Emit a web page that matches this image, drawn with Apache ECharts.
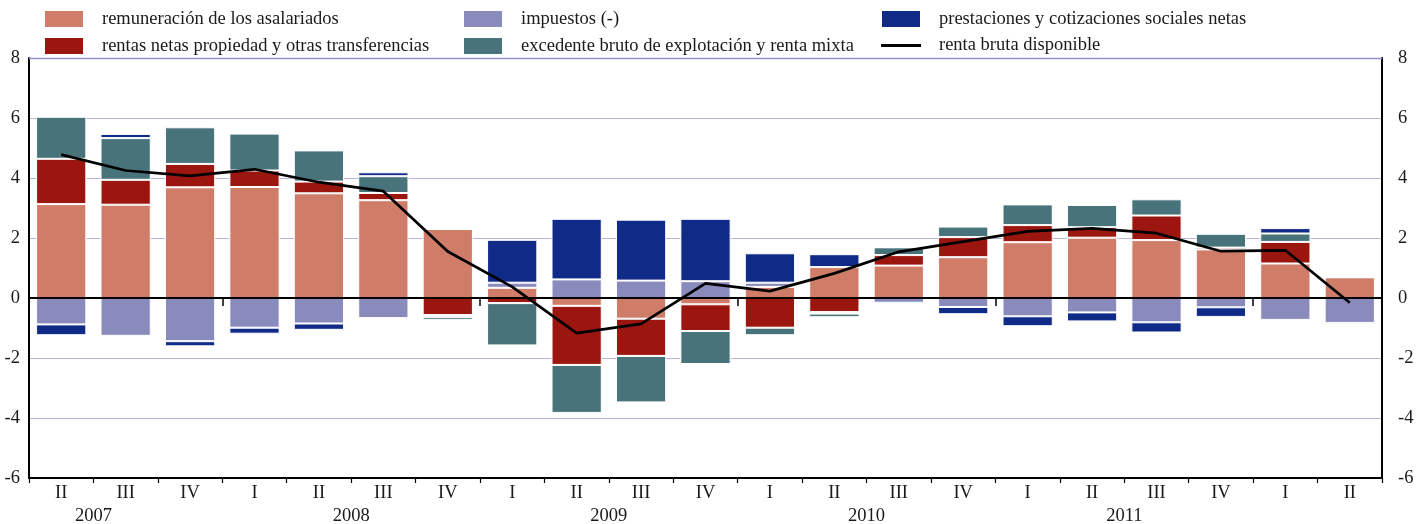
<!DOCTYPE html>
<html>
<head>
<meta charset="utf-8">
<script src="https://cdn.jsdelivr.net/npm/echarts@6/dist/echarts.min.js"></script>
<style>
  html, body { margin: 0; padding: 0; background: #fff; }
  #chart { width: 1423px; height: 524px; }
</style>
</head>
<body>
<div id="chart"></div>
<script>
// Trimestres (2007 II – 2012 II)
const categories = ['II','III','IV','I','II','III','IV','I','II','III','IV','I','II','III','IV','I','II','III','IV','I','II'];
const years = ['2007','2008','2009','2010','2011'];

// Contribuciones (puntos porcentuales)
const remuneracion = [3.13, 3.11, 3.69, 3.70, 3.49, 3.26, 2.30, 0.34, -0.26, -0.69, -0.21, 0.37, 1.03, 1.08, 1.36, 1.86, 2.01, 1.93, 1.62, 1.15, 0.69];
const rentasNetas = [1.51, 0.83, 0.78, 0.55, 0.39, 0.24, -0.57, -0.17, -1.97, -1.24, -0.89, -0.99, -0.47, 0.35, 0.67, 0.57, 0.35, 0.82, 0.06, 0.72, 0];
const impuestos = [-0.88, -1.26, -1.44, -0.99, -0.85, -0.67, -0.07, 0.17, 0.62, 0.58, 0.56, 0.14, -0.05, -0.16, -0.30, -0.61, -0.48, -0.81, -0.31, -0.73, -0.83];
const excedente = [1.40, 1.39, 1.22, 1.23, 1.04, 0.56, -0.10, -1.41, -1.60, -1.55, -1.10, -0.25, -0.12, 0.26, 0.35, 0.69, 0.74, 0.54, 0.46, 0.28, -0.06];
const prestaciones = [-0.36, 0.14, -0.17, -0.20, -0.21, 0.13, 0, 1.43, 2.02, 2.03, 2.08, 0.98, 0.43, 0, -0.24, -0.33, -0.30, -0.34, -0.32, 0.18, 0];
const rentaBruta = [4.78, 4.25, 4.07, 4.29, 3.86, 3.56, 1.55, 0.37, -1.17, -0.86, 0.49, 0.23, 0.82, 1.54, 1.88, 2.22, 2.32, 2.16, 1.56, 1.59, -0.16];

const yTicks = { min: -6, max: 8, interval: 2 };

// Posición de cada año en el eje auxiliar (unidades de trimestre)
const romans = ['I','II','III','IV'];
const firstOffset = romans.indexOf(categories[0]);
const yearCenters = years.map((y, k) => k * 4 - firstOffset + 2);
const yearBounds = yearCenters.map(c => c + 2);

const FONT = '"Liberation Serif", "DejaVu Serif", serif';
const FS = 18.5;
const TXT = '#1a1a1a';

const names = {
  rem: 'remuneración de los asalariados',
  ren: 'rentas netas propiedad y otras transferencias',
  imp: 'impuestos (-)',
  exc: 'excedente bruto de explotación y renta mixta',
  pre: 'prestaciones y cotizaciones sociales netas',
  rbd: 'renta bruta disponible'
};
const colors = {
  rem: '#CF7C69', ren: '#9C1610', imp: '#8A8BBD',
  exc: '#48737A', pre: '#0F2A87', rbd: '#000000'
};

function barSeries(key, data) {
  return {
    name: names[key], type: 'bar', stack: 'total', data: data,
    barWidth: '78%',
    itemStyle: { color: colors[key], borderColor: '#ffffff', borderWidth: 1 },
    z: 2
  };
}

function legendBlock(left, keys) {
  return {
    orient: 'vertical', left: left, top: 9, padding: 0,
    itemWidth: 40, itemHeight: 18, itemGap: 7,
    symbolKeepAspect: true,
    data: keys.map(k => ({
      name: names[k],
      icon: k === 'rbd' ? 'path://M0,0 H40 V3 H0 Z' : 'rect'
    })),
    textStyle: { fontFamily: FONT, fontSize: FS, color: TXT, padding: [0, 0, 0, 13] },
    selectedMode: false
  };
}

const chart = echarts.init(document.getElementById('chart'), null, { renderer: 'canvas' });

chart.setOption({
  animation: false,
  backgroundColor: '#ffffff',
  legend: [
    legendBlock(43, ['rem', 'ren']),
    legendBlock(462, ['imp', 'exc']),
    legendBlock(880, ['pre', 'rbd'])
  ],
  grid: { left: 29, right: 41, top: 58, bottom: 46, containLabel: false, outerBoundsMode: 'none' },
  xAxis: [
    {
      type: 'category', data: categories, position: 'bottom',
      boundaryGap: true,
      axisLine: { show: true, onZero: false, lineStyle: { color: '#000', width: 2 } },
      axisTick: { show: true, alignWithLabel: false, length: 5, lineStyle: { color: '#000', width: 1.2 } },
      axisLabel: { fontFamily: FONT, fontSize: FS, color: TXT, margin: 6, interval: 0 },
      splitLine: { show: false }
    },
    {
      type: 'value', min: 0, max: categories.length, position: 'bottom',
      axisLine: { show: false },
      splitLine: { show: false },
      axisTick: { show: true, customValues: yearBounds, length: 8, lineStyle: { color: '#000', width: 1.5 } },
      axisLabel: {
        customValues: yearCenters,
        fontFamily: FONT, fontSize: FS, color: TXT, margin: 29,
        formatter: function (v) {
          const i = yearCenters.findIndex(c => Math.abs(c - v) < 1e-6);
          return i >= 0 ? years[i] : '';
        }
      }
    }
  ],
  yAxis: [
    {
      type: 'value', position: 'left', min: yTicks.min, max: yTicks.max, interval: yTicks.interval,
      axisLine: { show: true, onZero: false, lineStyle: { color: '#000', width: 2 } },
      axisTick: { show: false },
      axisLabel: { fontFamily: FONT, fontSize: FS, color: TXT, margin: 9 },
      splitLine: { show: true, lineStyle: { color: '#b6b7df', width: 1.2 } }
    },
    {
      type: 'value', position: 'right', min: yTicks.min, max: yTicks.max, interval: yTicks.interval,
      axisLine: { show: true, onZero: false, lineStyle: { color: '#000', width: 2 } },
      axisTick: { show: false },
      axisLabel: { fontFamily: FONT, fontSize: FS, color: TXT, margin: 16 },
      splitLine: { show: false }
    }
  ],
  series: [
    // línea de cero y borde superior, bajo las barras
    {
      name: 'eje cero', type: 'line', data: [], z: 1, silent: true,
      markLine: {
        silent: true, symbol: 'none', label: { show: false }, animation: false,
        data: [
          { yAxis: 0, lineStyle: { color: '#000', width: 2, type: 'solid' } },
          { yAxis: yTicks.max, lineStyle: { color: '#8e8fcc', width: 1.3, type: 'solid' } }
        ]
      }
    },
    barSeries('rem', remuneracion),
    barSeries('ren', rentasNetas),
    barSeries('imp', impuestos),
    barSeries('exc', excedente),
    barSeries('pre', prestaciones),
    {
      name: names.rbd, type: 'line', data: rentaBruta,
      symbol: 'none', z: 5,
      lineStyle: { color: '#000', width: 2.7 },
      itemStyle: { color: '#000' },
      markLine: {
        silent: true, symbol: 'none', label: { show: false }, animation: false,
        data: [{ yAxis: 0, lineStyle: { color: '#000', width: 2, opacity: 0.5, type: 'solid' } }]
      }
    }
  ]
});
</script>
</body>
</html>
